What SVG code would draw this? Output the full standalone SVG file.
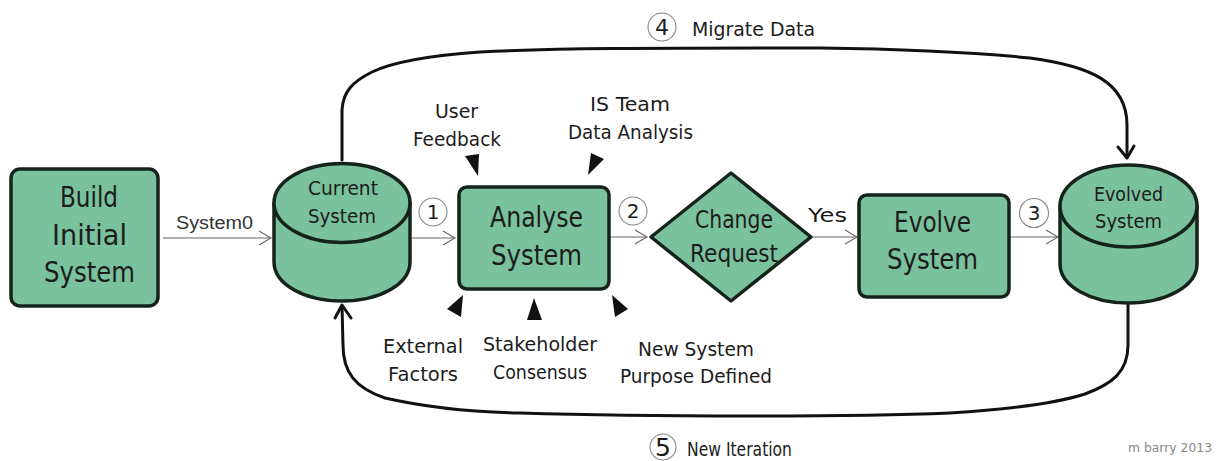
<svg xmlns="http://www.w3.org/2000/svg" width="1218" height="461" viewBox="0 0 1218 461">
<style>
.s{fill:#7ac29e;stroke:#15231c;stroke-width:3.5;stroke-linejoin:round}
text{font-family:"DejaVu Sans","Liberation Sans",sans-serif;fill:#1c1c1c}
.l{font-size:28px}.m{font-size:20px}.a{font-family:"Liberation Sans",sans-serif;font-size:18px;fill:#333}
.c{fill:#fff;stroke:#888;stroke-width:1.1}
.n{font-size:20px;text-anchor:middle}
.t{fill:#111;stroke:none}
.f{fill:none;stroke:#666;stroke-width:1.1}
.b{fill:none;stroke:#111;stroke-width:3;stroke-linecap:round;stroke-linejoin:round}
</style>
<defs>
<marker id="o" markerUnits="userSpaceOnUse" markerWidth="16" markerHeight="16" refX="14" refY="8" orient="auto"><path d="M2 1L14 8L2 15" fill="none" stroke="#666" stroke-width="1.1"/></marker>
</defs>
<g id="connectors">
<path class="b" d="M342 160V110C343 92 352 82 372 72C395 61 437 55 480 52C560 48 640 48 820 48C900 49 970 52 1030 58C1090 66 1127 82 1127 125V157"/>
<path class="b" d="M1118 147L1127 158L1134 146"/>
<path class="b" d="M1128 305V345C1128 372 1112 384 1085 394C1050 405 1000 410 950 413C850 417 650 417 520 413C470 412 420 406 385 398C355 388 343 372 343 345L342 306"/>
<path class="b" d="M335 318L342 305L351 318"/>
<path class="f" marker-end="url(#o)" d="M163 238H271"/>
<path class="f" marker-end="url(#o)" d="M412 238H455"/>
<path class="f" marker-end="url(#o)" d="M610 237H647"/>
<path class="f" marker-end="url(#o)" d="M812 237H857"/>
<path class="f" marker-end="url(#o)" d="M1010 237H1058"/>
<text class="a" x="176" y="229" textLength="77" lengthAdjust="spacingAndGlyphs">System0</text>
<text x="808" y="222" class="m" textLength="39" lengthAdjust="spacingAndGlyphs">Yes</text>
<circle class="c" cx="433" cy="212" r="14"/><text class="n" x="433" y="219">1</text>
<circle class="c" cx="633" cy="211" r="14"/><text class="n" x="633" y="218">2</text>
<circle class="c" cx="1034" cy="213" r="14.500"/><text class="n" x="1034" y="220">3</text>
<circle class="c" cx="662" cy="27" r="14"/><text class="n" x="662" y="35" style="font-size:22px">4</text>
<text x="692" y="36" class="m" textLength="123" lengthAdjust="spacingAndGlyphs">Migrate Data</text>
<circle class="c" cx="663" cy="447" r="13"/><text class="n" x="663" y="456" style="font-size:25px">5</text>
<text x="687" y="456" class="m" textLength="105" lengthAdjust="spacingAndGlyphs">New Iteration</text>
</g>
<g id="build"><rect class="s" x="11" y="169" width="147" height="137" rx="9"/>
<text class="l" x="60" y="207" textLength="58" lengthAdjust="spacingAndGlyphs">Build</text>
<text class="l" x="52" y="245" textLength="75" lengthAdjust="spacingAndGlyphs">Initial</text>
<text class="l" x="44" y="282" textLength="91" lengthAdjust="spacingAndGlyphs">System</text></g>
<g id="current"><path class="s" d="M274 203V262C274 284 304 301 342 301C380 301 410 284 410 262V203Z"/>
<ellipse class="s" cx="342" cy="203" rx="68" ry="39.500"/>
<text class="m" x="308" y="195" textLength="70" lengthAdjust="spacingAndGlyphs">Current</text>
<text class="m" x="308" y="223" textLength="68" lengthAdjust="spacingAndGlyphs">System</text></g>
<g id="analyse"><rect class="s" x="459" y="187" width="150" height="102" rx="8"/>
<text class="l" x="490" y="227" textLength="93" lengthAdjust="spacingAndGlyphs">Analyse</text>
<text class="l" x="491" y="265" textLength="91" lengthAdjust="spacingAndGlyphs">System</text></g>
<g id="change"><path class="s" d="M731 173L811 237L731 301L651 237Z"/>
<text class="l" x="695" y="228" textLength="78" lengthAdjust="spacingAndGlyphs" style="font-size:24px">Change</text>
<text class="l" x="690" y="262" textLength="88" lengthAdjust="spacingAndGlyphs" style="font-size:24px">Request</text></g>
<g id="evolve"><rect class="s" x="859" y="195" width="150" height="102" rx="8"/>
<text class="l" x="894" y="232" textLength="77" lengthAdjust="spacingAndGlyphs">Evolve</text>
<text class="l" x="887" y="269" textLength="91" lengthAdjust="spacingAndGlyphs">System</text></g>
<g id="evolved"><path class="s" d="M1060 206V264C1060 286 1091 303 1128 303C1166 303 1197 286 1197 264V206Z"/>
<ellipse class="s" cx="1128.500" cy="206" rx="68.500" ry="41"/>
<text class="m" x="1094" y="201" textLength="69" lengthAdjust="spacingAndGlyphs">Evolved</text>
<text class="m" x="1095" y="228" textLength="67" lengthAdjust="spacingAndGlyphs">System</text></g>
<g id="inputs">
<path class="t" d="M465 156L479 154L478 176Z"/>
<path class="t" d="M591 153L604 159L588 175Z"/>
<path class="t" d="M463 295L447 309L461 317Z"/>
<path class="t" d="M534 298L527 320H542Z"/>
<path class="t" d="M612 295L628 309L615 317Z"/>
<text class="m" x="435" y="118" textLength="43" lengthAdjust="spacingAndGlyphs">User</text>
<text class="m" x="413" y="146" textLength="88" lengthAdjust="spacingAndGlyphs">Feedback</text>
<text class="m" x="590" y="111" textLength="80" lengthAdjust="spacingAndGlyphs">IS Team</text>
<text class="m" x="568" y="139" textLength="125" lengthAdjust="spacingAndGlyphs">Data Analysis</text>
<text class="m" x="383" y="353" textLength="80" lengthAdjust="spacingAndGlyphs">External</text>
<text class="m" x="388" y="381" textLength="70" lengthAdjust="spacingAndGlyphs">Factors</text>
<text class="m" x="483" y="351" textLength="114" lengthAdjust="spacingAndGlyphs">Stakeholder</text>
<text class="m" x="493" y="379" textLength="94" lengthAdjust="spacingAndGlyphs">Consensus</text>
<text class="m" x="638" y="356" textLength="116" lengthAdjust="spacingAndGlyphs">New System</text>
<text class="m" x="620" y="383" textLength="152" lengthAdjust="spacingAndGlyphs">Purpose Defined</text>
</g>
<text x="1128" y="452" style="font-size:12px;fill:#888" textLength="84" lengthAdjust="spacingAndGlyphs">m barry 2013</text>
</svg>
